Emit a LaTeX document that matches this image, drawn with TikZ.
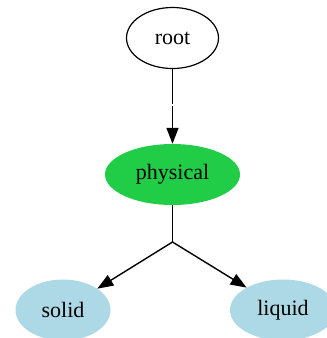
\documentclass[tikz,border=0pt]{standalone}
\usepackage{fontspec}
\setmainfont{Liberation Serif}
\usetikzlibrary{arrows.meta,shapes.geometric}
\definecolor{physgreen}{RGB}{33,204,71}
\definecolor{lightblue}{RGB}{173,216,230}
\tikzset{
  every node/.style={font=\fontsize{22}{26}\selectfont, inner sep=0pt},
  blob/.style={ellipse, minimum width=#1, minimum height=61pt},
  edge/.style={line width=1.4pt},
  arr/.style={edge, -{Triangle[length=16pt, width=12pt]}},
}
\begin{document}
\begin{tikzpicture}[x=1pt, y=-1pt]
  \useasboundingbox (0,0) rectangle (327,338);
  \node[blob=92pt, draw, line width=1.2pt] (root) at (172.5,38) {root};
  \node[blob=135pt, fill=physgreen] (physical) at (172.5,174.5) {physical};
  \node[blob=95pt, fill=lightblue] (solid) at (63,310) {solid};
  \node[blob=106pt, fill=lightblue] (liquid) at (283,310) {liquid};
  % invisible junction points the edges pass through
  \coordinate (j1) at (172.5,104);
  \coordinate (j1b) at (172.5,106);
  \coordinate (j2) at (172.5,242);
  \draw[edge] (root) -- (j1);
  \draw[arr] (j1b) -- (physical);
  \draw[edge] (physical) -- (j2);
  \draw[arr] (j2) -- (solid);
  \draw[arr] (j2) -- (liquid);
\end{tikzpicture}
\end{document}
